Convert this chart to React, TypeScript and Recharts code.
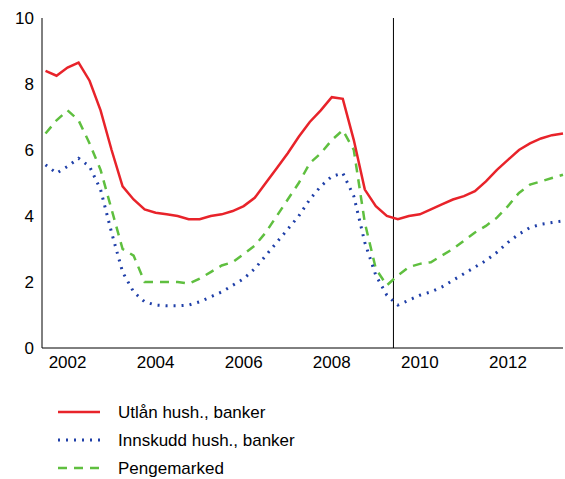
import React from 'react';
import { LineChart, Line, XAxis, YAxis, ReferenceLine } from 'recharts';

const startYear = 2001.5;
const utlan = [8.4, 8.25, 8.5, 8.65, 8.1, 7.2, 6.0, 4.9, 4.5, 4.2, 4.1, 4.05, 4.0, 3.9, 3.9, 4.0, 4.05, 4.15, 4.3, 4.55, 5.0, 5.45, 5.9, 6.4, 6.85, 7.2, 7.6, 7.55, 6.3, 4.8, 4.3, 4.0, 3.9, 4.0, 4.05, 4.2, 4.35, 4.5, 4.6, 4.75, 5.05, 5.4, 5.7, 6.0, 6.2, 6.35, 6.45, 6.5];
const innskudd = [5.55, 5.3, 5.5, 5.75, 5.5, 4.8, 3.5, 2.3, 1.7, 1.4, 1.3, 1.28, 1.28, 1.3, 1.4, 1.55, 1.7, 1.9, 2.1, 2.4, 2.8, 3.2, 3.6, 4.0, 4.5, 4.9, 5.2, 5.3, 4.6, 3.2, 2.2, 1.6, 1.3, 1.45, 1.6, 1.7, 1.85, 2.05, 2.25, 2.45, 2.65, 2.9, 3.2, 3.45, 3.65, 3.75, 3.8, 3.85];
const pengemarked = [6.5, 6.9, 7.2, 6.9, 6.2, 5.4, 4.2, 3.0, 2.8, 2.0, 2.0, 2.0, 2.0, 1.95, 2.1, 2.3, 2.5, 2.6, 2.85, 3.1, 3.5, 4.0, 4.5, 5.0, 5.6, 5.9, 6.3, 6.6, 6.0, 3.8, 2.4, 1.9, 2.2, 2.45, 2.55, 2.6, 2.8, 3.0, 3.25, 3.5, 3.7, 3.95, 4.3, 4.7, 4.95, 5.05, 5.15, 5.25];
const xTicks = [2002, 2004, 2006, 2008, 2010, 2012];
const yTicks = [0, 2, 4, 6, 8, 10];

const data = utlan.map((u, i) => ({
  t: startYear + i * 0.25,
  utlan: u,
  innskudd: innskudd[i],
  pengemarked: pengemarked[i],
}));

const font = { fontFamily: 'Liberation Sans, Arial, sans-serif', fontSize: 17, fill: '#000' };

const legend = [
  { name: 'Utlån hush., banker', color: '#e8232a', dash: undefined, w: 2.5 },
  { name: 'Innskudd hush., banker', color: '#1f3fa8', dash: '2 6', w: 3 },
  { name: 'Pengemarked', color: '#5fbf3f', dash: '9 7', w: 2.5 },
];

export default function App() {
  return (
    <div style={{ position: 'absolute', left: 0, top: 0, width: 565, height: 479, background: '#fff' }}>
      <LineChart width={565} height={380} data={data} margin={{ top: 18, right: 2, left: 0, bottom: 0 }}>
        <XAxis dataKey="t" type="number" domain={[2001.42, 2013.1]} ticks={xTicks} tick={font}
          tickLine={false} axisLine={{ stroke: '#000' }} height={32} />
        <YAxis domain={[0, 10]} ticks={yTicks} tick={font} tickLine={false} axisLine={{ stroke: '#000' }} width={42} />
        <ReferenceLine x={2009.4} stroke="#000" strokeWidth={1} />
        <Line dataKey="pengemarked" stroke="#5fbf3f" strokeWidth={2.5} strokeDasharray="9 7" dot={false} isAnimationActive={false} />
        <Line dataKey="innskudd" stroke="#1f3fa8" strokeWidth={3} strokeDasharray="2 6" dot={false} isAnimationActive={false} />
        <Line dataKey="utlan" stroke="#e8232a" strokeWidth={2.5} dot={false} isAnimationActive={false} />
      </LineChart>
      {legend.map((l, i) => (
        <svg key={l.name} style={{ position: 'absolute', left: 0, top: 400 + i * 28 }} width={565} height={26}>
          <line x1={58} x2={100} y1={12} y2={12} stroke={l.color} strokeWidth={l.w} strokeDasharray={l.dash} />
          <text x={118} y={18} style={font}>{l.name}</text>
        </svg>
      ))}
    </div>
  );
}
